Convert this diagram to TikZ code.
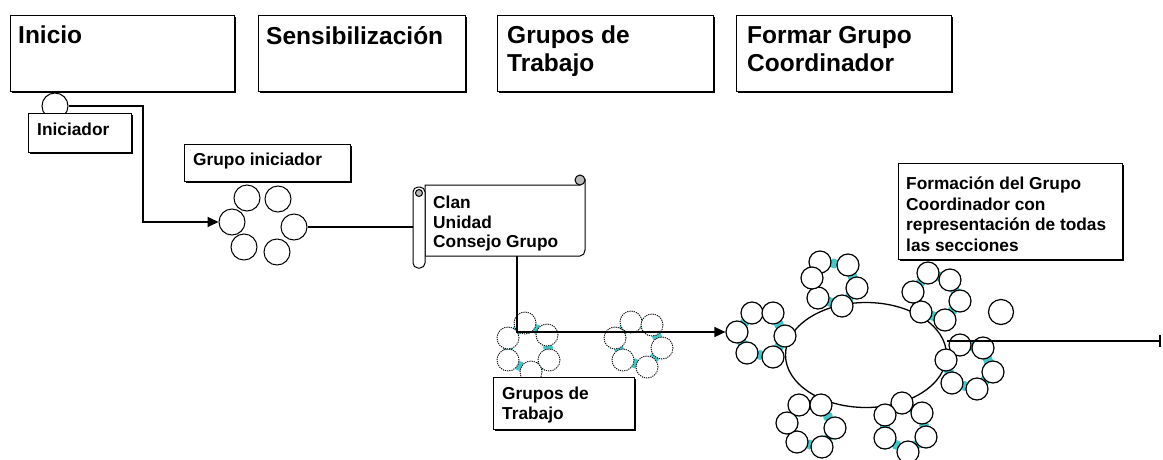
\documentclass[tikz,border=0pt]{standalone}
\usepackage{fontspec}
\setsansfont{Liberation Sans}
\usepackage{tikz}
\usetikzlibrary{arrows.meta,shapes.geometric,shadows,calc,backgrounds}
\definecolor{jointcyan}{RGB}{64,200,200}
\tikzset{
    stagebox/.style = {
        rectangle,
        draw=black,
        fill=white,
        line width=1pt,
        inner sep=0pt,
        anchor=north west,
        drop shadow={shadow xshift=1pt, shadow yshift=-1.2pt, fill=black, opacity=1}
    },
    stagetext/.style = {
        align=left,
        anchor=north west,
        inner sep=0pt,
        font=\sffamily\bfseries\fontsize{24.5pt}{28pt}\selectfont
    },
    notetext/.style = {
        stagetext,
        font=\sffamily\bfseries\fontsize{17.3pt}{19.5pt}\selectfont
    },
    member/.style = {
        circle,
        draw=black,
        fill=white,
        line width=1.2pt,
        inner sep=0pt,
        minimum size=22pt
    },
    founder/.style = {
        member,
        line width=1pt,
        minimum size=26pt
    },
    worker/.style = {
        member,
        densely dotted,
        line width=0.9pt
    },
    joint/.style = {fill=jointcyan},
    flow/.style = {draw=black, line width=1.8pt},
    scrollpart/.style = {draw=black, line width=1pt, fill=white}
}
\begin{document}
\begin{tikzpicture}[x=1pt, y=-1pt]
\useasboundingbox (0,0) rectangle (1163,459);

\node[ellipse, draw, line width=1.3pt, inner sep=0pt,
      minimum width=161pt, minimum height=105pt] (council) at (866,355) {};

\node[founder] (init) at (55,106) {};
\foreach \n/\x/\y in {1/247/198, 2/278/199, 3/232/222, 4/294/227, 5/244/247, 6/277/252}
    \node[founder] (gi\n) at (\x,\y) {};

\foreach \n/\x/\y in {1/525/323, 2/547/335, 3/549/360, 4/531/372, 5/508/360, 6/508/338}
    \node[worker] (wa\n) at (\x,\y) {};
\foreach \n/\x/\y in {1/631/322, 2/652/325, 3/662/348, 4/647/367, 5/623/360, 6/615/338}
    \node[worker] (wb\n) at (\x,\y) {};

\foreach \n/\x/\y in {1/752/313, 2/773/313, 3/785/336, 4/773/357, 5/747/353, 6/737/332}
    \node[member] (cw\n) at (\x,\y) {};
\foreach \n/\x/\y in {1/820/262, 2/848/265, 3/857/288, 4/842/306, 5/818/298, 6/812/278}
    \node[member] (cn\n) at (\x,\y) {};
\foreach \n/\x/\y in {1/928/273, 2/950/280, 3/960/301, 4/945/320, 5/921/312, 6/913/292}
    \node[member] (cq\n) at (\x,\y) {};
\foreach \n/\x/\y in {1/960/345, 2/983/348, 3/993/372, 4/977/389, 5/952/383, 6/946/360}
    \node[member] (ce\n) at (\x,\y) {};
\foreach \n/\x/\y in {1/799/405, 2/821/405, 3/835/428, 4/822/447, 5/797/442, 6/787/423}
    \node[member] (cs\n) at (\x,\y) {};
\foreach \n/\x/\y in {1/902/403, 2/922/413, 3/926/437, 4/908/452, 5/885/438, 6/885/415}
    \node[member] (ct\n) at (\x,\y) {};
\node[member, minimum size=25pt] (spare) at (1001,312) {};

\begin{scope}[on background layer]
    \foreach \g in {wa,wb,cw,cn,cq,ce,cs,ct}
        \foreach \i/\j in {1/2,2/3,3/4,4/5,5/6,6/1}
            \fill[joint] ($(\g\i)!0.5!(\g\j)$) circle (5pt);
\end{scope}

\coordinate (turn) at (143,222);
\coordinate (scrollin) at (413,227);
\coordinate (scrollout) at (517,256);
\coordinate (exit) at (947,341);
\coordinate (finish) at (1161,341);
\draw[flow, -{Triangle[length=11pt,width=10pt]}] (init.east) -| (turn) -- (gi3.west);
\draw[flow] (gi4.east) -- (scrollin);
\draw[flow, line width=1.5pt, -{Triangle[length=11pt,width=10pt]}] (scrollout) |- (cw6.west);
\draw[flow, -{Bar[width=12pt]}] (exit) -- (finish);

\draw[scrollpart] (425,185) -- (580,185) -- (585,180) -- (585,250)
    to[out=-90,in=0] (580,256) -- (425,256) -- cycle;
\draw[scrollpart, fill=gray!55] (580,180) circle (5pt);
\draw[scrollpart, rounded corners=5pt] (413,187) rectangle (425,268);
\draw[scrollpart, fill=gray!55] (419,193) circle (3.5pt);
\node[notetext] (clan) at (433,196) {Clan\\Unidad\\Consejo Grupo};

\node[stagebox, minimum width=224pt, minimum height=76pt] (inicio) at (10,15) {};
\node[stagetext] (inicio-t) at (18,26) {Inicio};
\node[stagebox, minimum width=207pt, minimum height=76pt] (sens) at (258,15) {};
\node[stagetext] (sens-t) at (266,26) {Sensibilización};
\node[stagebox, minimum width=216pt, minimum height=76pt] (grupos) at (497,15) {};
\node[stagetext] (grupos-t) at (507,26) {Grupos de\\Trabajo};
\node[stagebox, minimum width=215pt, minimum height=76pt] (formar) at (736,15) {};
\node[stagetext] (formar-t) at (747,26) {Formar Grupo\\Coordinador};

\node[stagebox, minimum width=103pt, minimum height=39pt] (iniciador) at (28,113) {};
\node[notetext] (iniciador-t) at (37,123) {Iniciador};
\node[stagebox, minimum width=166pt, minimum height=37pt] (gi-box) at (184,144) {};
\node[notetext] (gi-t) at (193,153) {Grupo iniciador};
\node[stagebox, minimum width=224pt, minimum height=96pt] (coord-box) at (898,163) {};
\node[notetext, font=\sffamily\bfseries\fontsize{17.3pt}{20.5pt}\selectfont] (coord-t) at (906,177)
    {Formación del Grupo\\Coordinador con\\representación de todas\\las secciones};
\node[stagebox, minimum width=141pt, minimum height=52pt] (gt-box) at (493,377) {};
\node[notetext] (gt-t) at (502,387) {Grupos de\\Trabajo};
\end{tikzpicture}
\end{document}
